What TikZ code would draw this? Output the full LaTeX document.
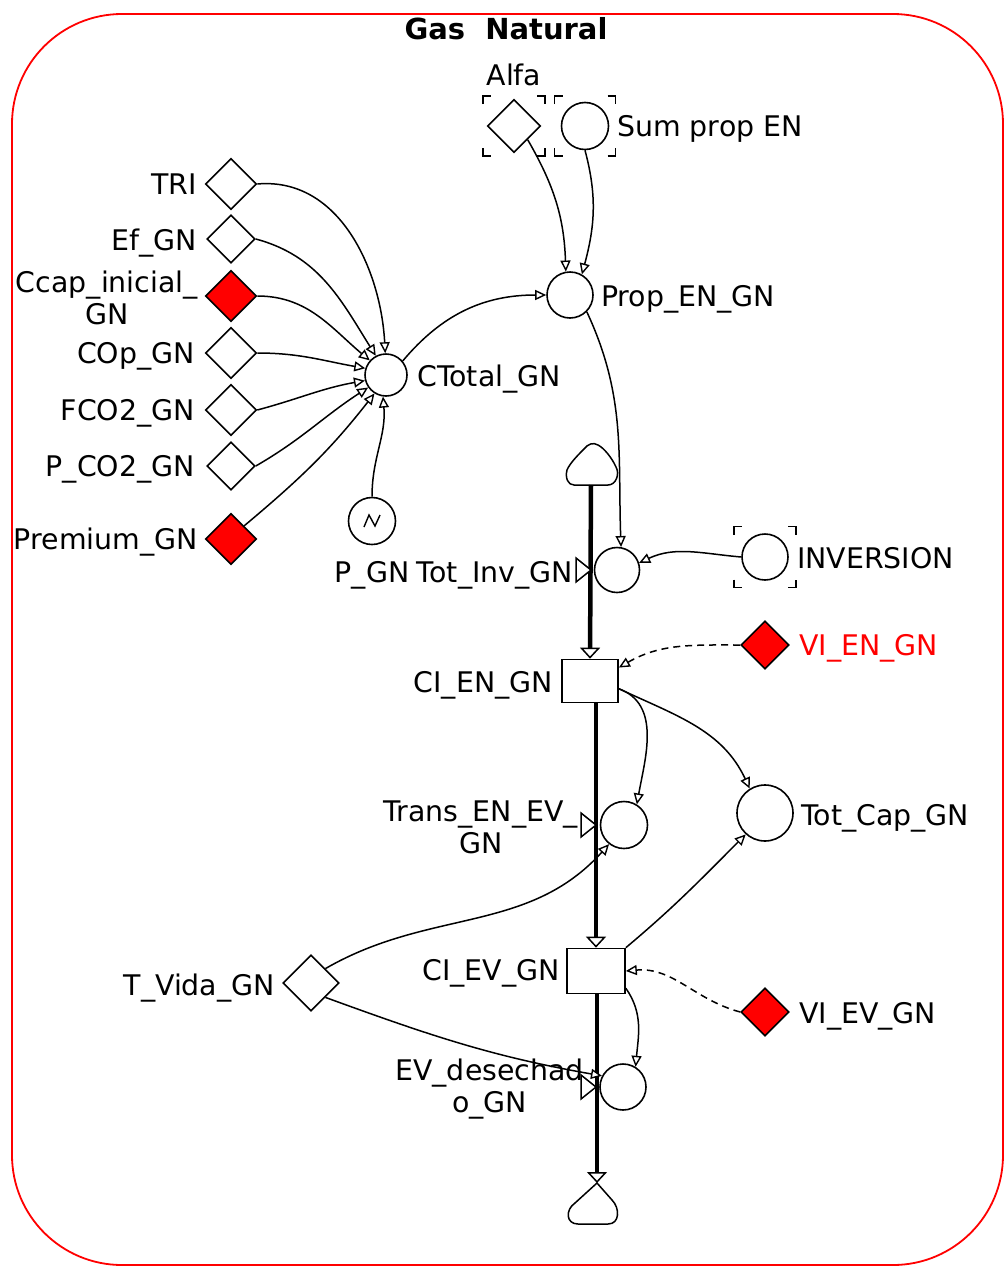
\documentclass[tikz,border=0pt]{standalone}
\usepackage{fontspec}
\setmainfont{DejaVu Sans}
\usetikzlibrary{shapes.geometric,arrows.meta,calc}

% corner marks around a node: #1 node, #2 half width, #3 half height
\newcommand\cornermarks[3]{%
  \draw[cornermark] (#1.center) ++(-#2,-#3) ++(0,8) -- ++(0,-8) -- ++(8,0);
  \draw[cornermark] (#1.center) ++(#2,-#3) ++(-8,0) -- ++(8,0) -- ++(0,8);
  \draw[cornermark] (#1.center) ++(-#2,#3) ++(0,-8) -- ++(0,8) -- ++(8,0);
  \draw[cornermark] (#1.center) ++(#2,#3) ++(-8,0) -- ++(8,0) -- ++(0,-8);
}

\tikzset{
  lbl/.style={font=\fontsize{28.4}{32}\selectfont, inner sep=0pt, align=center},
  auxv/.style={diamond, draw, line width=1.6pt, minimum width=51pt, minimum height=51pt, inner sep=0pt, fill=white},
  auxred/.style={auxv, fill=red},
  varc/.style={circle, draw, line width=1.6pt, minimum size=45pt, inner sep=0pt, fill=white},
  stockbox/.style={rectangle, draw, line width=1.7pt, minimum width=56pt, minimum height=43pt, inner sep=0pt, fill=white},
  link/.style={line width=1.5pt, -{Triangle[open,length=11pt,width=10pt,line width=1.4pt,fill=white]}},
  dlink/.style={link, dash pattern=on 7pt off 5pt},
  pipe/.style={line width=4.5pt, -{Triangle[open,length=11pt,width=20pt,line width=1.5pt,fill=white]}},
  valvetri/.style={draw, line width=1.5pt, fill=white},
  cornermark/.style={line width=1.6pt},
  cloud/.style={draw, line width=1.5pt, fill=white},
}

\begin{document}
\begin{tikzpicture}[x=1pt,y=-1pt]
\useasboundingbox (0,0) rectangle (1006,1269);

% frame and title
\draw[red, line width=1.8pt, rounded corners=110pt] (12,14) rectangle (1003,1265);
\node[font=\bfseries\fontsize{29}{32}\selectfont, inner sep=0pt, anchor=base] (title) at (506,39) {Gas\ \ Natural};

% source and sink clouds
\draw[cloud] (574,485) -- (608,485) .. controls (616,485) and (620,474) .. (616,467)
  .. controls (612,458) and (604,448) .. (598,445) .. controls (593,442) and (588,444) .. (584,449)
  .. controls (578,455) and (570,463) .. (567,470) .. controls (565,478) and (568,485) .. (574,485) -- cycle;
\coordinate (src) at (591,485);
\draw[cloud] (597,1183) -- (612,1200) .. controls (620,1208) and (620,1224) .. (608,1224)
  -- (578,1224) .. controls (566,1224) and (565,1210) .. (575,1203) -- cycle;
\coordinate (snk) at (597,1183);

% stocks
\node[stockbox] (CIEN) at (590,681) {};
\node[stockbox, minimum width=58pt, minimum height=45pt] (CIEV) at (596,971) {};

% material flow pipes
\draw[pipe] (src) -- (CIEN.north);
\draw[pipe] (CIEV.north |- CIEN.south) -- (CIEV.north);
\draw[pipe] (CIEV.south -| snk) -- (snk);

% valves
\node[varc, minimum size=45pt] (TI) at (617,570) {};
\node[varc, minimum size=47pt] (TR) at (624,825) {};
\node[varc, minimum size=46pt] (EV) at (623,1087) {};
\draw[valvetri] (TI -| src) -- ++(-15,-12) -- ++(0,24) -- cycle;
\draw[valvetri] (TR -| CIEV) -- ++(-15,-12) -- ++(0,24) -- cycle;
\draw[valvetri] (EV -| CIEV) -- ++(-15,-12) -- ++(0,24) -- cycle;

% auxiliaries and constants
\node[auxv, minimum width=53pt, minimum height=53pt] (AL) at (514,126) {};
\node[varc, minimum size=47pt] (SP) at (585,126) {};
\cornermarks{AL}{31}{30}
\cornermarks{SP}{30.5}{30}

\node[auxv] (TRI) at (231,184) {};
\node[auxv, minimum width=48pt, minimum height=48pt] (EF) at (231,239) {};
\node[auxred] (CC) at (231,296) {};
\node[auxv] (CO) at (231,353) {};
\node[auxv] (FC) at (231,410) {};
\node[auxv, minimum width=48pt, minimum height=48pt] (PC) at (231,466) {};
\node[auxred] (PR) at (231,539) {};

\node[varc, minimum size=42pt] (CT) at (386,375) {};
\node[varc, minimum size=47pt] (PG) at (372,521) {};
\draw[line width=1.4pt] ($(PG.center)+(-8,6)$) -- ($(PG.center)+(-3,-6)$) -- ($(PG.center)+(3,5)$) -- ($(PG.center)+(8,-6)$);
\node[varc, minimum size=46pt] (PE) at (570,295) {};

\node[varc, minimum size=46pt] (IN) at (765,557) {};
\cornermarks{IN}{31}{30.5}
\node[auxred, minimum width=48pt, minimum height=48pt] (VEN) at (765,645) {};
\node[varc, minimum size=56pt] (TC) at (765,813) {};
\node[auxv, minimum width=56pt, minimum height=56pt] (TV) at (311,983) {};
\node[auxred, minimum width=48pt, minimum height=48pt] (VEV) at (765,1012) {};

% labels
\node[lbl, anchor=base] (AL-l) at (514,85) {Alfa};
\node[lbl, anchor=base west] (SP-l) at (617,136) {Sum prop EN};
\node[lbl, anchor=base east] (TRI-l) at (197,194) {TRI};
\node[lbl, anchor=base east] (EF-l) at (197,250) {Ef\_GN};
\node[lbl, anchor=east] (CC-l) at (198,298) {Ccap\_inicial\_\\GN};
\node[lbl, anchor=base east] (CO-l) at (195,363) {COp\_GN};
\node[lbl, anchor=base east] (FC-l) at (195,420) {FCO2\_GN};
\node[lbl, anchor=base east] (PC-l) at (195,476) {P\_CO2\_GN};
\node[lbl, anchor=base east] (PR-l) at (198,549) {Premium\_GN};
\node[lbl, anchor=base west] (CT-l) at (417,386) {CTotal\_GN};
\node[lbl, anchor=base west] (PE-l) at (601,306) {Prop\_EN\_GN};
\node[lbl, anchor=base] (PG-l) at (372,582) {P\_GN};
\node[lbl, anchor=base east] (TI-l) at (573,582) {Tot\_Inv\_GN};
\node[lbl, anchor=base west] (IN-l) at (797,568) {INVERSION};
\node[lbl, anchor=base west, text=red] (VEN-l) at (799,655) {VI\_EN\_GN};
\node[lbl, anchor=base east] (CIEN-l) at (553,692) {CI\_EN\_GN};
\node[lbl, anchor=east] (TR-l) at (578,827) {Trans\_EN\_EV\_\\GN};
\node[lbl, anchor=base west] (TC-l) at (801,825) {Tot\_Cap\_GN};
\node[lbl, anchor=base east] (CIEV-l) at (560,980) {CI\_EV\_GN};
\node[lbl, anchor=base east] (TV-l) at (275,995) {T\_Vida\_GN};
\node[lbl, anchor=base west] (VEV-l) at (799,1023) {VI\_EV\_GN};
\node[lbl, anchor=east] (EV-l) at (584,1089) {EV\_desechad\\o\_GN};

% information links into CTotal_GN
\draw[link] (TRI.east) to[out=5, in=93] (CT.92);
\draw[link] (EF.east) to[out=-15, in=122] (CT.118);
\draw[link] (CC.east) to[out=0, in=140] (CT.138);
\draw[link] (CO.east) to[out=0, in=170] (CT.162);
\draw[link] (FC.east) to[out=15, in=190] (CT.195);
\draw[link] (PC.east) to[out=30, in=213] (CT.215);
\draw[link] (PR.north east) to[out=40, in=232] (CT.238);
\draw[link] (PG.north) to[out=90, in=-85] (CT.262);

% links into Prop_EN_GN and Tot_Inv_GN
\draw[link] (CT.40) to[out=50, in=180] (PE.west);
\draw[link] (AL.south east) to[out=-60, in=92] (PE.100);
\draw[link] (SP.south) to[out=-75, in=75] (PE.60);
\draw[link] (PE.south east) to[out=-65, in=92] (TI.80);
\draw[link] (IN.west) to[out=175, in=25] (TI.18);

% links around the stocks
\draw[dlink] (VEN.west) to[out=180, in=30] (CIEN.25);
\draw[link] (CIEN.-15) to[out=-20, in=80] (TR.58);
\draw[link] (CIEN.-15) to[out=-25, in=115] (TC.122);
\draw[link] (TV.north east) to[out=30, in=228] (TR.232);
\draw[link] (TV.south east) to[out=-20, in=170] (EV.152);
\draw[link] (CIEV.north east) to[out=40, in=225] (TC.228);
\draw[dlink] (VEV.west) to[out=165, in=5] (CIEV.east);
\draw[link] (CIEV.-30) to[out=-55, in=85] (EV.58);
\end{tikzpicture}
\end{document}
